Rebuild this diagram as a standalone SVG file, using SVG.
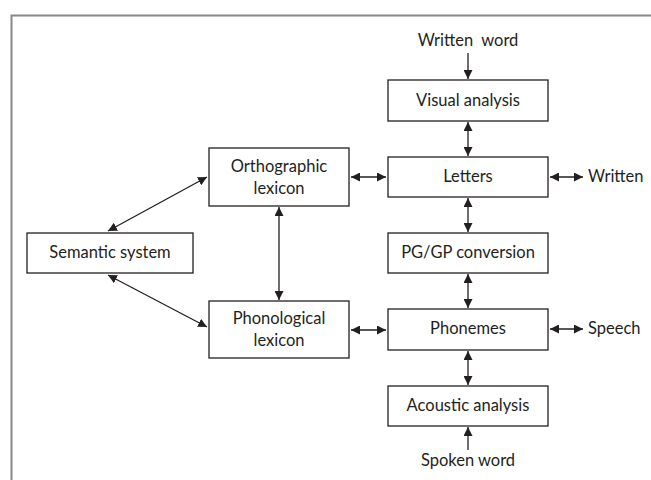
<svg xmlns="http://www.w3.org/2000/svg" width="651" height="480" viewBox="0 0 651 480">
<defs>
<marker id="ah" viewBox="0 0 10 10" refX="10" refY="5" markerWidth="9" markerHeight="9" markerUnits="userSpaceOnUse" orient="auto-start-reverse">
<path d="M0,0 L10,5 L0,10 z" fill="#231f20"/>
</marker>
<style>
.box{fill:#fff;stroke:#231f20;stroke-width:1.3}
.t{font-family:Lato,"Open Sans",sans-serif;font-size:16.5px;fill:#231f20;text-anchor:middle}
.tl{font-family:Lato,"Open Sans",sans-serif;font-size:16.5px;fill:#231f20}
.c{stroke:#231f20;stroke-width:1.3;fill:none}
</style>
</defs>
<rect width="651" height="480" fill="#fff"/>
<path d="M11.5,480 V15.5 H651" fill="none" stroke="#888" stroke-width="2"/>
<g id="visual"><rect class="box" x="388" y="80" width="160" height="41"/><text class="t" x="468" y="106">Visual analysis</text></g>
<g id="letters"><rect class="box" x="388" y="157" width="160" height="40"/><text class="t" x="468" y="182">Letters</text></g>
<g id="pggp"><rect class="box" x="388" y="233" width="160" height="40"/><text class="t" x="468" y="258">PG/GP conversion</text></g>
<g id="phonemes"><rect class="box" x="388" y="309" width="160" height="41"/><text class="t" x="468" y="334">Phonemes</text></g>
<g id="acoustic"><rect class="box" x="388" y="386" width="160" height="40"/><text class="t" x="468" y="411">Acoustic analysis</text></g>
<g id="ortho"><rect class="box" x="209" y="148" width="140" height="58"/><text class="t" x="279" y="172">Orthographic</text><text class="t" x="279" y="194">lexicon</text></g>
<g id="phono"><rect class="box" x="209" y="301" width="140" height="57"/><text class="t" x="279" y="324">Phonological</text><text class="t" x="279" y="346">lexicon</text></g>
<g id="semantic"><rect class="box" x="27" y="233" width="166" height="40"/><text class="t" x="110" y="258">Semantic system</text></g>
<g id="labels">
<text class="t" x="468" y="46">Written&#160; word</text>
<text class="t" x="468" y="466">Spoken word</text>
<text class="tl" x="588" y="182">Written</text>
<text class="tl" x="588" y="334">Speech</text>
</g>
<g id="connectors">
<line class="c" x1="468" y1="53" x2="468" y2="79" marker-end="url(#ah)"/>
<line class="c" x1="468" y1="450" x2="468" y2="427" marker-end="url(#ah)"/>
<line class="c" x1="468" y1="122" x2="468" y2="156" marker-start="url(#ah)" marker-end="url(#ah)"/>
<line class="c" x1="468" y1="198" x2="468" y2="232" marker-start="url(#ah)" marker-end="url(#ah)"/>
<line class="c" x1="468" y1="274" x2="468" y2="308" marker-start="url(#ah)" marker-end="url(#ah)"/>
<line class="c" x1="468" y1="351" x2="468" y2="385" marker-start="url(#ah)" marker-end="url(#ah)"/>
<line class="c" x1="550" y1="177" x2="583" y2="177" marker-start="url(#ah)" marker-end="url(#ah)"/>
<line class="c" x1="550" y1="329" x2="583" y2="329" marker-start="url(#ah)" marker-end="url(#ah)"/>
<line class="c" x1="351" y1="177" x2="386" y2="177" marker-start="url(#ah)" marker-end="url(#ah)"/>
<line class="c" x1="351" y1="330" x2="386" y2="330" marker-start="url(#ah)" marker-end="url(#ah)"/>
<line class="c" x1="279" y1="207" x2="279" y2="300" marker-start="url(#ah)" marker-end="url(#ah)"/>
<line class="c" x1="108" y1="231" x2="207" y2="177" marker-start="url(#ah)" marker-end="url(#ah)"/>
<line class="c" x1="108" y1="275" x2="207" y2="327" marker-start="url(#ah)" marker-end="url(#ah)"/>
</g>
</svg>
